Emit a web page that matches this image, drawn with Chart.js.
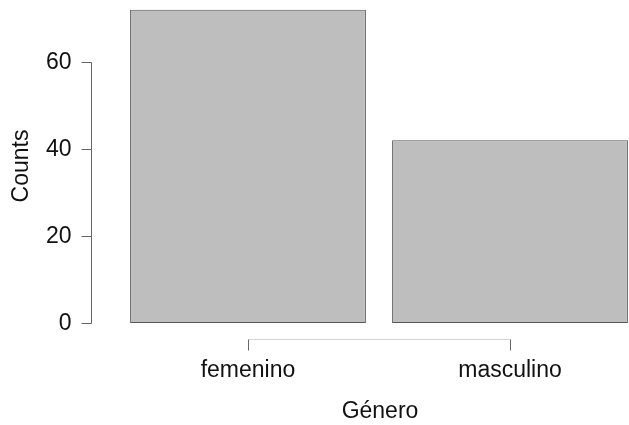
<!DOCTYPE html>
<html lang="es">
<head>
  <meta charset="utf-8">
  <title>Género - Counts</title>
  <script src="https://cdn.jsdelivr.net/npm/chart.js@4.4.1/dist/chart.umd.min.js"></script>
  <style>
    html, body { margin: 0; padding: 0; background: #fff; }
    #wrap { width: 629px; height: 425px; }
  </style>
</head>
<body>
  <div id="wrap"><canvas id="graph"></canvas></div>
  <script>
    // data
    const categories = ['femenino', 'masculino'];
    const counts = [72, 42];
    const yTicks = [0, 20, 40, 60];
    const xTitle = 'Género';
    const yTitle = 'Counts';

    const FONT = '23px "Liberation Sans", Arial, sans-serif';

    // R-style axes drawn with the chart's own scales
    const rAxes = {
      id: 'rAxes',
      afterDraw(chart) {
        const ctx = chart.ctx;
        const xs = chart.scales.x, ys = chart.scales.y;
        const left = chart.chartArea.left;
        ctx.save();
        ctx.font = FONT;
        ctx.fillStyle = '#111';

        // y axis
        const y0 = Math.round(ys.getPixelForValue(yTicks[0])) + 0.5;
        const y1 = Math.round(ys.getPixelForValue(yTicks[yTicks.length - 1])) + 0.5;
        const ax = Math.round(left) + 0.5;
        ctx.strokeStyle = '#666';
        ctx.lineWidth = 1;
        ctx.beginPath();
        ctx.moveTo(ax, y0);
        ctx.lineTo(ax, y1);
        yTicks.forEach(v => {
          const py = Math.round(ys.getPixelForValue(v)) + 0.5;
          ctx.moveTo(ax - 10, py);
          ctx.lineTo(ax, py);
        });
        ctx.stroke();
        ctx.textAlign = 'right';
        ctx.textBaseline = 'middle';
        yTicks.forEach(v => {
          ctx.fillText(String(v), ax - 20, ys.getPixelForValue(v) + 1);
        });

        // x axis
        const bx = y0 + 16;
        const xa = Math.round(xs.getPixelForValue(1)) + 0.5;
        const xb = Math.round(xs.getPixelForValue(categories.length)) + 0.5;
        ctx.strokeStyle = '#d4d4d4';
        ctx.beginPath();
        ctx.moveTo(xa, bx);
        ctx.lineTo(xb, bx);
        ctx.stroke();
        ctx.strokeStyle = '#666';
        ctx.beginPath();
        categories.forEach((c, i) => {
          const px = Math.round(xs.getPixelForValue(i + 1)) + 0.5;
          ctx.moveTo(px, bx);
          ctx.lineTo(px, bx + 11);
        });
        ctx.stroke();
        ctx.textAlign = 'center';
        ctx.textBaseline = 'alphabetic';
        categories.forEach((c, i) => {
          ctx.fillText(c, xs.getPixelForValue(i + 1), bx + 37);
        });

        // titles
        ctx.fillText(xTitle, 380, 418);
        ctx.translate(28, 166);
        ctx.rotate(-Math.PI / 2);
        ctx.fillText(yTitle, 0, 0);
        ctx.restore();
      }
    };

    const data = {
      datasets: [{
        data: categories.map((c, i) => ({ x: i + 1, y: counts[i] })),
        backgroundColor: '#bebebe',
        borderColor: '#555',
        borderWidth: 1,
        borderSkipped: false,
        categoryPercentage: 1,
        barPercentage: 0.9
      }]
    };

    const options = {
      responsive: false,
      animation: false,
      events: [],
      layout: { padding: { left: 91, right: 0, top: 0, bottom: 102 } },
      plugins: { legend: { display: false }, tooltip: { enabled: false } },
      scales: {
        x: {
          type: 'linear', display: false, offset: false,
          min: 0.4008, max: 2.4542,
          afterBuildTicks: s => { s.ticks = categories.map((c, i) => ({ value: i + 1 })); }
        },
        y: { display: false, min: 0, max: 74.25 }
      }
    };

    const cv = document.getElementById('graph');
    cv.width = 629;
    cv.height = 425;
    new Chart(cv, { type: 'bar', data: data, options: options, plugins: [rAxes] });
  </script>
</body>
</html>
